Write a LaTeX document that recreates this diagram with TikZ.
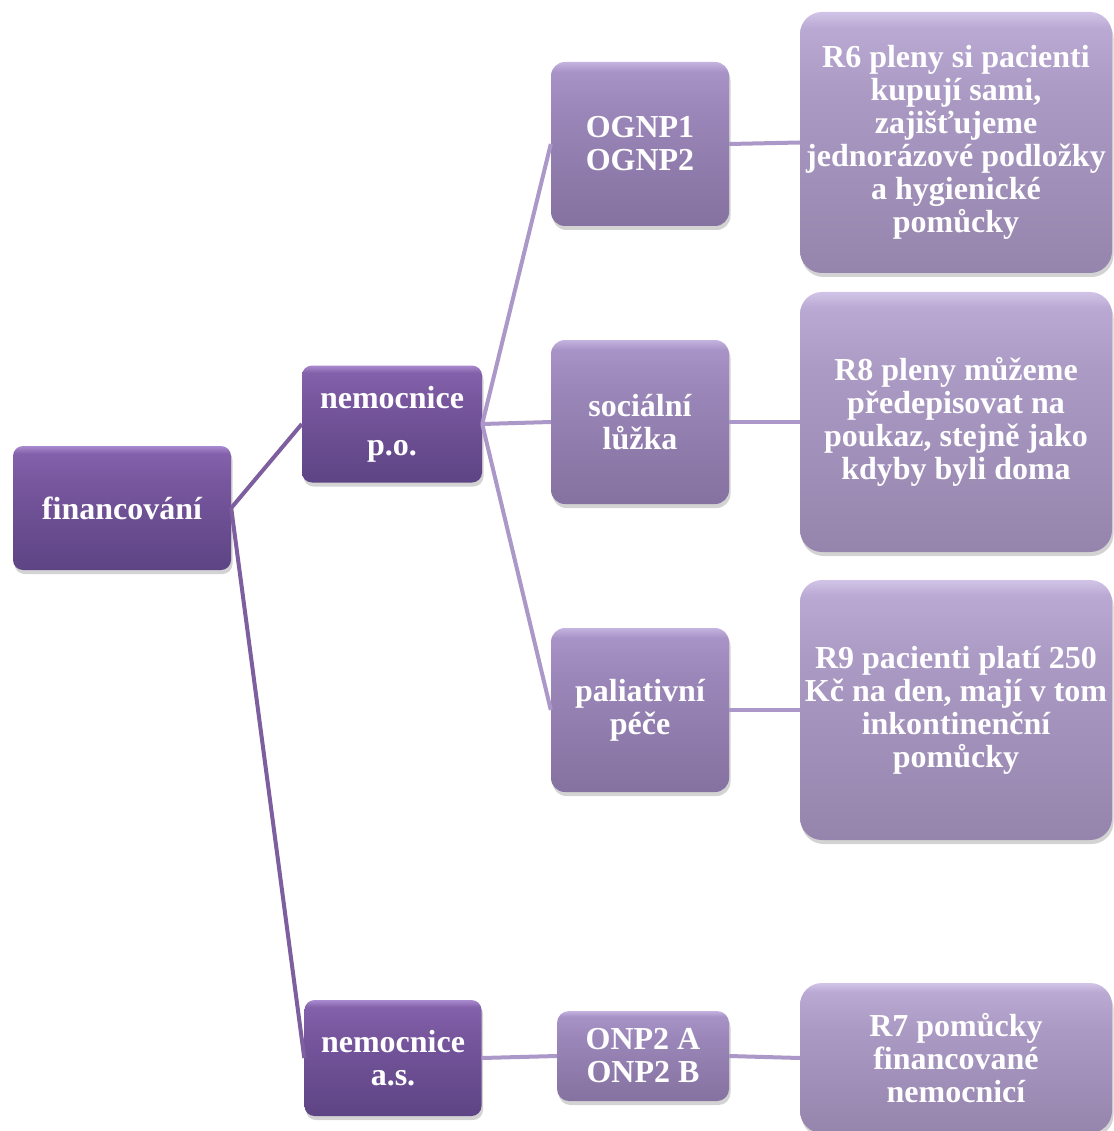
\documentclass[tikz,border=0pt]{standalone}
\usepackage{fontspec}
\setmainfont{Liberation Serif}
\usetikzlibrary{shadows}

% colours of the three box levels
\definecolor{dh}{HTML}{A98AD0}
\definecolor{dz}{HTML}{8462AB}
\definecolor{dm}{HTML}{77569E}
\definecolor{db}{HTML}{5D4484}
\definecolor{lh}{HTML}{C4B3E0}
\definecolor{lz}{HTML}{A893C6}
\definecolor{lm}{HTML}{9A86B8}
\definecolor{lb}{HTML}{8672A0}
\definecolor{vh}{HTML}{D2C4E8}
\definecolor{vz}{HTML}{BAA9D3}
\definecolor{vm}{HTML}{AB9AC4}
\definecolor{vb}{HTML}{9584AC}
\definecolor{linkdark}{HTML}{7D5E9E}
\definecolor{linklight}{HTML}{AB98C8}

\pgfdeclareverticalshading{darkbox}{100bp}{color(0bp)=(db); color(25bp)=(db); color(60bp)=(dm); color(72bp)=(dz); color(75bp)=(dh); color(100bp)=(dh)}
\pgfdeclareverticalshading{midbox}{100bp}{color(0bp)=(lb); color(25bp)=(lb); color(60bp)=(lm); color(72bp)=(lz); color(75bp)=(lh); color(100bp)=(lh)}
\pgfdeclareverticalshading{lightbox}{100bp}{color(0bp)=(vb); color(25bp)=(vb); color(60bp)=(vm); color(72bp)=(vz); color(75bp)=(vh); color(100bp)=(vh)}

\tikzset{
  boxbase/.style={text=white, align=center, inner sep=0pt,
    font=\bfseries\fontsize{32}{33}\selectfont,
    drop shadow={opacity=0.35, shadow xshift=1.5pt, shadow yshift=-4pt}},
  lvone/.style={boxbase, shading=darkbox, rounded corners=10pt},
  lvtwo/.style={boxbase, shading=midbox, rounded corners=14pt},
  lvthree/.style={boxbase, shading=lightbox, rounded corners=22pt},
  darklink/.style={draw=linkdark, line width=4pt},
  lightlink/.style={draw=linklight, line width=4pt}
}

\begin{document}
\begin{tikzpicture}[x=1pt,y=-1pt]
\useasboundingbox (0,0) rectangle (1113,1131);

% first and second level
\node[lvone, minimum width=218pt, minimum height=124pt] (fin) at (122,508) {financování};
\node[lvone, minimum width=180pt, minimum height=117pt,
      font=\bfseries\fontsize{32}{47}\selectfont] (npo) at (392,424) {nemocnice\\p.o.};
\node[lvone, minimum width=177pt, minimum height=116pt] (nas) at (393,1058) {nemocnice\\a.s.};

% departments
\node[lvtwo, minimum width=178pt, minimum height=164pt] (ognp) at (640,144) {OGNP1\\OGNP2};
\node[lvtwo, minimum width=178pt, minimum height=164pt] (soc) at (640,422) {sociální\\lůžka};
\node[lvtwo, minimum width=178pt, minimum height=164pt] (pal) at (640,710) {paliativní\\péče};
\node[lvtwo, minimum width=172pt, minimum height=90pt, rounded corners=12pt] (onp) at (643,1056) {ONP2 A\\ONP2 B};

% statements
\node[lvthree, minimum width=312pt, minimum height=261pt] (r6) at (956,142.5)
  {R6 pleny si pacienti\\kupují sami,\\zajišťujeme\\jednorázové podložky\\a hygienické\\pomůcky};
\node[lvthree, minimum width=312pt, minimum height=260pt] (r8) at (956,422)
  {R8 pleny můžeme\\předepisovat na\\poukaz, stejně jako\\kdyby byli doma};
\node[lvthree, minimum width=312pt, minimum height=260pt] (r9) at (956,710)
  {R9 pacienti platí 250\\Kč na den, mají v tom\\inkontinenční\\pomůcky};
\node[lvthree, minimum width=312pt, minimum height=150pt] (r7) at (956,1058)
  {R7 pomůcky\\financované\\nemocnicí};

% connectors
\draw[darklink] (fin.east) -- (npo.west);
\draw[darklink] (fin.east) -- (nas.west);
\draw[lightlink] (npo.east) -- (ognp.west);
\draw[lightlink] (npo.east) -- (soc.west);
\draw[lightlink] (npo.east) -- (pal.west);
\draw[lightlink] (nas.east) -- (onp.west);
\draw[lightlink] (ognp.east) -- (r6.west);
\draw[lightlink] (soc.east) -- (r8.west);
\draw[lightlink] (pal.east) -- (r9.west);
\draw[lightlink] (onp.east) -- (r7.west);
\end{tikzpicture}
\end{document}
